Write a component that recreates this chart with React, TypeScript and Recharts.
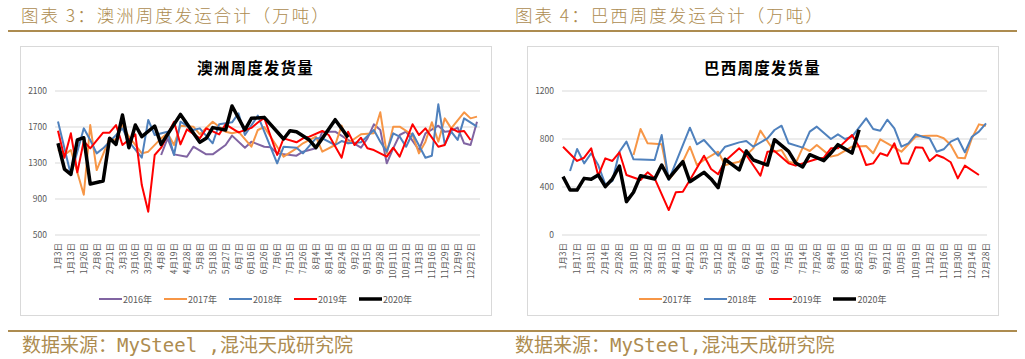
import React from 'react';
import { LineChart, Line, XAxis, YAxis, CartesianGrid, Legend } from 'recharts';

const _ = null;

// ---- 澳洲 (weekly shipments, 万吨) ----
const auDates = [
  '1月3日', '1月8日', '1月13日', '1月20日', '1月26日', '2月1日', '2月8日', '2月14日', '2月21日', '2月26日',
  '3月3日', '3月9日', '3月16日', '3月22日', '3月29日', '4月3日', '4月8日', '4月13日', '4月19日', '4月23日',
  '4月28日', '5月3日', '5月8日', '5月13日', '5月18日', '5月22日', '5月27日', '6月1日', '6月7日', '6月11日',
  '6月16日', '6月21日', '6月26日', '7月1日', '7月6日', '7月10日', '7月15日', '7月20日', '7月26日', '7月30日',
  '8月4日', '8月9日', '8月14日', '8月19日', '8月24日', '8月28日', '9月2日', '9月8日', '9月15日', '9月21日',
  '9月28日', '10月4日', '10月11日', '10月16日', '10月21日', '10月27日', '11月3日', '11月9日', '11月16日', '11月22日',
  '11月29日', '12月4日', '12月9日', '12月15日', '12月22日', '12月28日',
];
const auTicks = [500, 900, 1300, 1700, 2100];

const au2016 = [
  _, _, _, _, _, _, _, _, _, _,
  _, _, _, _, _, _, 1389, 1574, 1396, _,
  1370, 1481, _, 1396, 1396, _, 1500, 1604, _, 1470,
  1537, _, 1480, 1474, 1407, _, _, 1381, 1426, _,
  1463, 1648, _, 1648, _, 1556, _, 1470, 1574, 1730,
  1667, 1296, 1463, 1611, 1648, _, 1444, 1630, _, 1715,
  1648, 1656, 1693, 1519, 1500, 1759,
];
const au2017 = [
  1450, 1390, 1444, _, 948, 1722, 1222, _, 1574, 1556,
  1722, 1593, _, 1407, 1426, _, 1574, 1630, 1500, 1715,
  _, 1704, 1619, _, 1759, _, 1648, 1630, 1648, _,
  1481, 1667, 1700, _, _, 1370, _, 1463, 1519, _,
  1593, 1426, _, 1500, 1715, 1519, _, 1619, _, 1630,
  1863, 1407, 1704, 1704, _, 1611, 1407, 1537, 1752, 1537,
  1796, 1685, _, 1863, 1796, 1815,
];
const au2018 = [
  1760, _, 1167, _, 1685, 1556, 1407, 1463, _, _,
  1685, 1537, _, 1359, 1778, 1611, _, 1648, 1389, 1759,
  _, 1667, 1685, _, 1519, 1730, _, 1752, 1852, 1611,
  _, 1826, _, _, 1296, 1481, _, 1470, 1407, _,
  1574, 1574, _, 1500, 1544, 1519, _, 1530, _, 1667,
  1537, 1426, 1630, 1593, 1481, 1630, _, 1359, 1381, 1952,
  1507, 1648, 1556, 1796, _, 1704,
];
const au2019 = [
  1659, 1359, 1630, 1196, 1544, 1463, _, 1637, 1637, 1722,
  1500, _, 1618, 1055, 759, 1389, 1470, _, 1759, 1507,
  1674, _, 1574, 1685, _, 1618, 1730, _, 1640, _,
  1690, 1750, 1800, _, 1389, 1574, _, 1530, 1574, 1593,
  _, 1656, 1611, _, 1359, 1648, 1500, 1581, 1463, 1444,
  _, 1370, 1470, 1370, _, 1730, 1611, 1685, _, 1481,
  1500, 1685, 1648, 1656, 1556,
];
const au2020 = [
  1519, 1233, 1174, 1556, 1581, 1067, _, 1100, 1574, 1507,
  1833, 1470, 1722, 1593, _, 1711, 1507, _, _, 1840,
  _, _, 1530, 1574, 1693, _, 1667, 1933, _, 1667,
  1796, _, 1807, _, _, 1567, 1659, 1648, _, 1555,
  1470, _, _, 1781, _, 1585,
];

// ---- 巴西 ----
const brDates = [
  '1月3日', '1月10日', '1月17日', '1月24日', '1月31日', '2月7日', '2月14日', '2月21日', '2月28日', '3月6日',
  '3月10日', '3月16日', '3月22日', '3月27日', '3月31日', '4月6日', '4月12日', '4月16日', '4月21日', '4月27日',
  '5月3日', '5月8日', '5月12日', '5月18日', '5月24日', '5月28日', '6月2日', '6月8日', '6月14日', '6月19日',
  '6月23日', '6月29日', '7月5日', '7月10日', '7月14日', '7月20日', '7月26日', '7月31日', '8月4日', '8月10日',
  '8月16日', '8月20日', '8月25日', '8月31日', '9月7日', '9月14日', '9月21日', '9月28日', '10月5日', '10月12日',
  '10月19日', '10月26日', '11月2日', '11月9日', '11月16日', '11月23日', '11月30日', '12月7日', '12月14日', '12月21日',
  '12月28日',
];
const brTicks = [0, 400, 800, 1200];

const br2017 = [
  _, _, _, _, _, _, _, _, _, _,
  667, 883, 764, _, 756, 458, _, 611, 736, 583,
  625, _, 694, 583, _, 611, 667, 722, 870, _,
  694, 708, 611, 597, 728, 700, 750, _, 653, 667,
  _, 736, _, 742, 681, 797, 764, _, 694, _,
  819, 825, 828, 828, 806, 750, 644, 639, 806, 922,
  911,
];
const br2018 = [
  _, 533, 717, 597, 681, 583, 422, 450, 694, 778,
  631, _, _, 625, 833, 458, _, _, 894, 756,
  792, _, 661, 736, _, 772, 783, 736, _, 806,
  875, 911, 764, _, 728, 861, 903, _, 800, 839,
  800, 819, _, 972, 883, 869, 961, 889, 736, 764,
  839, 819, 806, 694, 714, 778, 806, 689, 819, 861,
  931,
];
const br2019 = [
  736, _, 617, 644, 722, 494, 639, 617, 689, 500,
  _, 458, 522, 472, _, 208, 356, 361, 458, _,
  661, 550, 506, 617, _, 722, 667, _, 494, 694,
  700, _, 597, 578, 597, _, 633, 644, 722, 722,
  _, 833, 736, 583, 597, 681, 661, 764, 597, 594,
  731, 728, 617, 667, 644, 606, 472, 578, _, 500,
];
const br2020 = [
  486, 375, 375, 472, 464, 500, 403, 467, 575, 278,
  356, 494, _, 467, 583, 472, _, 611, 444, _,
  522, 467, 394, 631, _, 542, 700, 625, _, 583,
  794, _, 697, 600, 567, 669, _, 620, 683, 753,
  _, 683, 878,
];

type Series = { name: string; values: (number | null)[]; color: string; width: number };

const PURPLE = '#8064a2';
const ORANGE = '#f79646';
const BLUE = '#4f81bd';
const RED = '#ff0000';
const BLACK = '#000000';

const auSeries: Series[] = [
  { name: '2016年', values: au2016, color: PURPLE, width: 2 },
  { name: '2017年', values: au2017, color: ORANGE, width: 2 },
  { name: '2018年', values: au2018, color: BLUE, width: 2 },
  { name: '2019年', values: au2019, color: RED, width: 2 },
  { name: '2020年', values: au2020, color: BLACK, width: 3.5 },
];
const brSeries: Series[] = [
  { name: '2017年', values: br2017, color: ORANGE, width: 2 },
  { name: '2018年', values: br2018, color: BLUE, width: 2 },
  { name: '2019年', values: br2019, color: RED, width: 2 },
  { name: '2020年', values: br2020, color: BLACK, width: 3.5 },
];

const GOLD = '#ad8c50';
const FONT = "'Noto Sans CJK SC', 'Noto Sans', sans-serif";

function buildRows(dates: string[], series: Series[]) {
  return dates.map((date, i) => {
    const row: Record<string, string | number | null> = { date };
    series.forEach(s => {
      row[s.name] = s.values[i] ?? null;
    });
    return row;
  });
}

const DateTick = (props: any) => {
  const { x, y, payload } = props;
  return (
    <text
      x={x}
      y={y}
      dy="0.36em"
      textAnchor="end"
      transform={`rotate(-90, ${x}, ${y})`}
      fontSize={8.5}
      fill="#595959"
      fontFamily={FONT}
    >
      {payload.value}
    </text>
  );
};

const LegendRow = ({ series }: { series: Series[] }) => (
  <div style={{ display: 'flex', justifyContent: 'center', alignItems: 'center', height: 18, fontFamily: FONT, fontSize: 9, color: '#595959' }}>
    {series.map(s => (
      <div key={s.name} style={{ display: 'flex', alignItems: 'center', margin: '0 6px' }}>
        <svg width={23} height={6}>
          <line x1={0} x2={23} y1={3} y2={3} stroke={s.color} strokeWidth={s.width === 2 ? 2 : 3.5} />
        </svg>
        <span style={{ marginLeft: 1 }}>{s.name}</span>
      </div>
    ))}
  </div>
);

function Panel({ left, title, dates, series, ticks, padding }: {
  left: number;
  title: string;
  dates: string[];
  series: Series[];
  ticks: number[];
  padding: { left: number; right: number };
}) {
  const rows = buildRows(dates, series);
  return (
    <>
      <div style={{ position: 'absolute', left, top: 46, width: 472, height: 270, boxSizing: 'border-box', border: '1px solid #d9d9d9' }} />
      <div style={{ position: 'absolute', left, top: 46, width: 471, height: 269 }}>
        <div style={{ position: 'absolute', left: 0, top: 11, width: 471, textAlign: 'center', fontFamily: FONT, fontWeight: 700, fontSize: 15.5, letterSpacing: 1.2, lineHeight: '20px', color: '#000' }}>
          {title}
        </div>
        <LineChart width={471} height={269} data={rows} margin={{ top: 45, right: 11, bottom: 7, left: 0 }}>
          <CartesianGrid vertical={false} stroke="#d9d9d9" />
          <XAxis dataKey="date" interval={1} tickLine={false} axisLine={false} height={55} tick={<DateTick />} padding={padding} />
          <YAxis
            domain={[ticks[0], ticks[ticks.length - 1]]}
            ticks={ticks}
            interval={0}
            width={35}
            tickLine={false}
            axisLine={false}
            tick={{ fontSize: 8.5, fill: '#595959', fontFamily: FONT }}
          />
          <Legend verticalAlign="bottom" height={18} wrapperStyle={{ left: 0, width: 471 }} content={() => <LegendRow series={series} />} />
          {series.map(s => (
            <Line
              key={s.name}
              type="linear"
              dataKey={s.name}
              stroke={s.color}
              strokeWidth={s.width}
              strokeLinejoin="round"
              dot={false}
              connectNulls
              isAnimationActive={false}
            />
          ))}
        </LineChart>
      </div>
    </>
  );
}

const headerStyle: React.CSSProperties = {
  position: 'absolute',
  top: 4,
  fontFamily: FONT,
  fontWeight: 300,
  fontSize: 17.5,
  letterSpacing: 2,
  lineHeight: '22px',
  color: GOLD,
  whiteSpace: 'nowrap',
};

const footerStyle: React.CSSProperties = {
  position: 'absolute',
  top: 334,
  fontFamily: "'DejaVu Sans Mono', 'Noto Sans CJK SC', monospace",
  fontSize: 19,
  lineHeight: '23px',
  color: GOLD,
  whiteSpace: 'nowrap',
};

export default function App() {
  return (
    <div style={{ position: 'absolute', left: 0, top: 0, width: 1025, height: 359, background: '#fff', overflow: 'hidden' }}>
      <div style={{ ...headerStyle, left: 21 }}>图表 3：澳洲周度发运合计（万吨）</div>
      <div style={{ ...headerStyle, left: 515 }}>图表 4：巴西周度发运合计（万吨）</div>
      <div style={{ position: 'absolute', left: 8, top: 30, width: 1009, height: 2, background: GOLD }} />

      <Panel left={20} title="澳洲周度发货量" dates={auDates} series={auSeries} ticks={auTicks} padding={{ left: 3, right: 3 }} />
      <Panel left={527} title="巴西周度发货量" dates={brDates} series={brSeries} ticks={brTicks} padding={{ left: 1, right: 1 }} />

      <div style={{ position: 'absolute', left: 8, top: 330, width: 1009, height: 2, background: GOLD }} />
      <div style={{ ...footerStyle, left: 22 }}>数据来源：MySteel ,混沌天成研究院</div>
      <div style={{ ...footerStyle, left: 515 }}>数据来源：MySteel,混沌天成研究院</div>
    </div>
  );
}
